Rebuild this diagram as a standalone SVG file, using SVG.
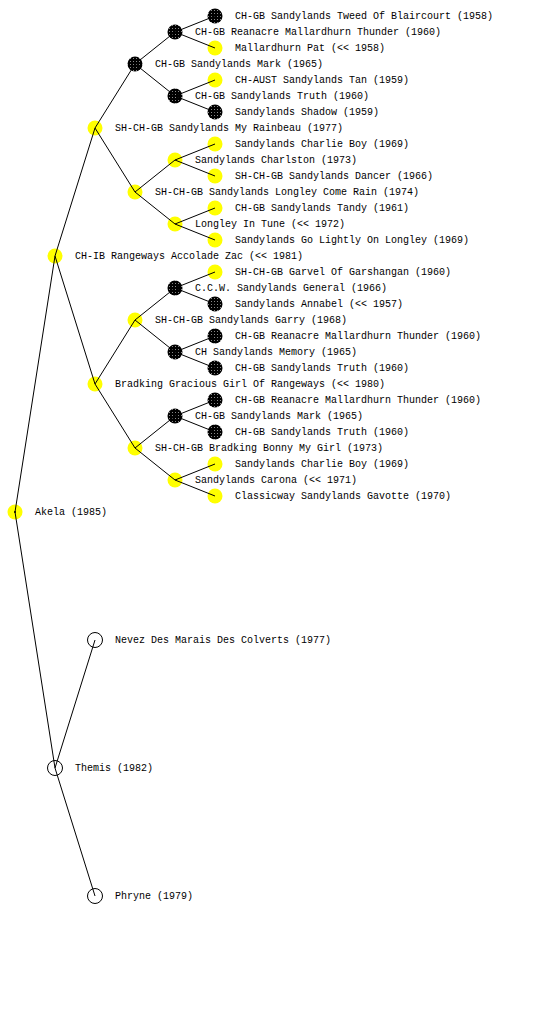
<svg xmlns="http://www.w3.org/2000/svg" width="560" height="1024" viewBox="0 0 560 1024">
<style>
text{font-family:"Liberation Mono","DejaVu Sans Mono",monospace;font-size:10px;fill:#000;dominant-baseline:central}
.y{fill:#ffff00}
.b{fill:url(#dots)}
.w{fill:#fff;stroke:#000;stroke-width:1}
#edges line{stroke:#000;stroke-width:1}
</style>
<defs>
<pattern id="dots" width="3" height="3" patternUnits="userSpaceOnUse">
<rect width="3" height="3" fill="#000"/>
<rect x="1" y="1" width="1" height="1" fill="#888"/>
</pattern>
</defs>
<rect width="560" height="1024" fill="#fff"/>
<g id="n-akela"><circle class="y" cx="15" cy="512" r="7.5"/><circle cx="15" cy="512" r="1"/><text x="35" y="512">Akela (1985)</text></g>
<g id="n-zac"><circle class="y" cx="55" cy="256" r="7.5"/><text x="75" y="256">CH-IB Rangeways Accolade Zac (&lt;&lt; 1981)</text></g>
<g id="n-rainbeau"><circle class="y" cx="95" cy="128" r="7.5"/><text x="115" y="128">SH-CH-GB Sandylands My Rainbeau (1977)</text></g>
<g id="n-mark1"><circle class="b" cx="135" cy="64" r="7.5"/><text x="155" y="64">CH-GB Sandylands Mark (1965)</text></g>
<g id="n-thunder1"><circle class="b" cx="175" cy="32" r="7.5"/><text x="195" y="32">CH-GB Reanacre Mallardhurn Thunder (1960)</text></g>
<g id="n-tweed"><circle class="b" cx="215" cy="16" r="7.5"/><text x="235" y="16">CH-GB Sandylands Tweed Of Blaircourt (1958)</text></g>
<g id="n-pat"><circle class="y" cx="215" cy="48" r="7.5"/><text x="235" y="48">Mallardhurn Pat (&lt;&lt; 1958)</text></g>
<g id="n-truth1"><circle class="b" cx="175" cy="96" r="7.5"/><text x="195" y="96">CH-GB Sandylands Truth (1960)</text></g>
<g id="n-tan"><circle class="y" cx="215" cy="80" r="7.5"/><text x="235" y="80">CH-AUST Sandylands Tan (1959)</text></g>
<g id="n-shadow"><circle class="b" cx="215" cy="112" r="7.5"/><text x="235" y="112">Sandylands Shadow (1959)</text></g>
<g id="n-comerain"><circle class="y" cx="135" cy="192" r="7.5"/><text x="155" y="192">SH-CH-GB Sandylands Longley Come Rain (1974)</text></g>
<g id="n-charlston"><circle class="y" cx="175" cy="160" r="7.5"/><text x="195" y="160">Sandylands Charlston (1973)</text></g>
<g id="n-charlie1"><circle class="y" cx="215" cy="144" r="7.5"/><text x="235" y="144">Sandylands Charlie Boy (1969)</text></g>
<g id="n-dancer"><circle class="y" cx="215" cy="176" r="7.5"/><text x="235" y="176">SH-CH-GB Sandylands Dancer (1966)</text></g>
<g id="n-tune"><circle class="y" cx="175" cy="224" r="7.5"/><text x="195" y="224">Longley In Tune (&lt;&lt; 1972)</text></g>
<g id="n-tandy"><circle class="y" cx="215" cy="208" r="7.5"/><text x="235" y="208">CH-GB Sandylands Tandy (1961)</text></g>
<g id="n-golightly"><circle class="y" cx="215" cy="240" r="7.5"/><text x="235" y="240">Sandylands Go Lightly On Longley (1969)</text></g>
<g id="n-gracious"><circle class="y" cx="95" cy="384" r="7.5"/><text x="115" y="384">Bradking Gracious Girl Of Rangeways (&lt;&lt; 1980)</text></g>
<g id="n-garry"><circle class="y" cx="135" cy="320" r="7.5"/><text x="155" y="320">SH-CH-GB Sandylands Garry (1968)</text></g>
<g id="n-general"><circle class="b" cx="175" cy="288" r="7.5"/><text x="195" y="288">C.C.W. Sandylands General (1966)</text></g>
<g id="n-garvel"><circle class="y" cx="215" cy="272" r="7.5"/><text x="235" y="272">SH-CH-GB Garvel Of Garshangan (1960)</text></g>
<g id="n-annabel"><circle class="b" cx="215" cy="304" r="7.5"/><text x="235" y="304">Sandylands Annabel (&lt;&lt; 1957)</text></g>
<g id="n-memory"><circle class="b" cx="175" cy="352" r="7.5"/><text x="195" y="352">CH Sandylands Memory (1965)</text></g>
<g id="n-thunder2"><circle class="b" cx="215" cy="336" r="7.5"/><text x="235" y="336">CH-GB Reanacre Mallardhurn Thunder (1960)</text></g>
<g id="n-truth2"><circle class="b" cx="215" cy="368" r="7.5"/><text x="235" y="368">CH-GB Sandylands Truth (1960)</text></g>
<g id="n-bonny"><circle class="y" cx="135" cy="448" r="7.5"/><text x="155" y="448">SH-CH-GB Bradking Bonny My Girl (1973)</text></g>
<g id="n-mark2"><circle class="b" cx="175" cy="416" r="7.5"/><text x="195" y="416">CH-GB Sandylands Mark (1965)</text></g>
<g id="n-thunder3"><circle class="b" cx="215" cy="400" r="7.5"/><text x="235" y="400">CH-GB Reanacre Mallardhurn Thunder (1960)</text></g>
<g id="n-truth3"><circle class="b" cx="215" cy="432" r="7.5"/><text x="235" y="432">CH-GB Sandylands Truth (1960)</text></g>
<g id="n-carona"><circle class="y" cx="175" cy="480" r="7.5"/><text x="195" y="480">Sandylands Carona (&lt;&lt; 1971)</text></g>
<g id="n-charlie2"><circle class="y" cx="215" cy="464" r="7.5"/><text x="235" y="464">Sandylands Charlie Boy (1969)</text></g>
<g id="n-gavotte"><circle class="y" cx="215" cy="496" r="7.5"/><text x="235" y="496">Classicway Sandylands Gavotte (1970)</text></g>
<g id="n-themis"><circle class="w" cx="55" cy="768" r="7.5"/><text x="75" y="768">Themis (1982)</text></g>
<g id="n-nevez"><circle class="w" cx="95" cy="640" r="7.5"/><text x="115" y="640">Nevez Des Marais Des Colverts (1977)</text></g>
<g id="n-phryne"><circle class="w" cx="95" cy="896" r="7.5"/><text x="115" y="896">Phryne (1979)</text></g>
<g id="edges">
<line x1="15" y1="512" x2="55" y2="256"/>
<line x1="15" y1="512" x2="55" y2="768"/>
<line x1="55" y1="256" x2="95" y2="128"/>
<line x1="55" y1="256" x2="95" y2="384"/>
<line x1="95" y1="128" x2="135" y2="64"/>
<line x1="95" y1="128" x2="135" y2="192"/>
<line x1="135" y1="64" x2="175" y2="32"/>
<line x1="135" y1="64" x2="175" y2="96"/>
<line x1="175" y1="32" x2="215" y2="16"/>
<line x1="175" y1="32" x2="215" y2="48"/>
<line x1="175" y1="96" x2="215" y2="80"/>
<line x1="175" y1="96" x2="215" y2="112"/>
<line x1="135" y1="192" x2="175" y2="160"/>
<line x1="135" y1="192" x2="175" y2="224"/>
<line x1="175" y1="160" x2="215" y2="144"/>
<line x1="175" y1="160" x2="215" y2="176"/>
<line x1="175" y1="224" x2="215" y2="208"/>
<line x1="175" y1="224" x2="215" y2="240"/>
<line x1="95" y1="384" x2="135" y2="320"/>
<line x1="95" y1="384" x2="135" y2="448"/>
<line x1="135" y1="320" x2="175" y2="288"/>
<line x1="135" y1="320" x2="175" y2="352"/>
<line x1="175" y1="288" x2="215" y2="272"/>
<line x1="175" y1="288" x2="215" y2="304"/>
<line x1="175" y1="352" x2="215" y2="336"/>
<line x1="175" y1="352" x2="215" y2="368"/>
<line x1="135" y1="448" x2="175" y2="416"/>
<line x1="135" y1="448" x2="175" y2="480"/>
<line x1="175" y1="416" x2="215" y2="400"/>
<line x1="175" y1="416" x2="215" y2="432"/>
<line x1="175" y1="480" x2="215" y2="464"/>
<line x1="175" y1="480" x2="215" y2="496"/>
<line x1="55" y1="768" x2="95" y2="640"/>
<line x1="55" y1="768" x2="95" y2="896"/>
</g>
</svg>
